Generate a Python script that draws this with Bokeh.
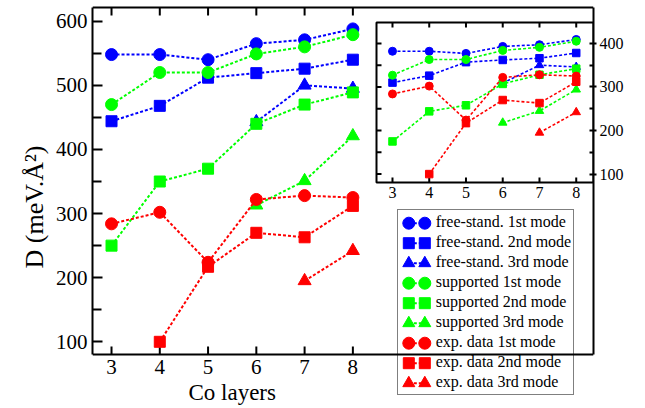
from bokeh.plotting import figure
from bokeh.models import Range1d, LinearAxis, FixedTicker, Legend, LegendItem
from bokeh.embed import file_html
from bokeh.resources import INLINE

# ---- data: spin-wave stiffness D versus number of Co layers ----
layers = [3, 4, 5, 6, 7, 8]
layers_3rd = [6, 7, 8]
layers_exp2 = [4, 5, 6, 7, 8]
layers_exp3 = [7, 8]

free_1st = [548, 548, 540, 565, 571, 588]
free_2nd = [444, 468, 512, 519, 526, 540]
free_3rd = [443, 500, 495]
supp_1st = [470, 520, 520, 549, 560, 579]
supp_2nd = [250, 350, 370, 440, 470, 489]
supp_3rd = [313, 351, 421]
exp_1st = [284, 302, 224, 322, 328, 325]
exp_2nd = [100, 217, 270, 263, 312]
exp_3rd = [195, 242]

# rescaled theory shown in the inset
inset_free_1st = [382, 382, 377, 393, 397, 409]
inset_free_2nd = [310, 326, 357, 362, 366, 378]
inset_free_3rd = [309, 350, 346]
inset_supp_1st = [327, 363, 363, 384, 391, 405]
inset_supp_2nd = [175, 244, 258, 307, 328, 342]
inset_supp_3rd = [218, 245, 294]

main_y_ticks = [100, 200, 300, 400, 500, 600]
main_y_minor = [150, 250, 350, 450, 550]
inset_y_ticks = [100, 200, 300, 400]
inset_y_minor = [150, 250, 350]

labels = [
    "free-stand. 1st mode", "free-stand. 2nd mode", "free-stand. 3rd mode",
    "supported 1st mode", "supported 2nd mode", "supported 3rd mode",
    "exp. data 1st mode", "exp. data 2nd mode", "exp. data 3rd mode",
]

BLUE, GREEN, RED = "#0000ff", "#00ff00", "#ff0000"
series = [
    (labels[0], BLUE, "circle", layers, free_1st, inset_free_1st),
    (labels[1], BLUE, "square", layers, free_2nd, inset_free_2nd),
    (labels[2], BLUE, "triangle", layers_3rd, free_3rd, inset_free_3rd),
    (labels[3], GREEN, "circle", layers, supp_1st, inset_supp_1st),
    (labels[4], GREEN, "square", layers, supp_2nd, inset_supp_2nd),
    (labels[5], GREEN, "triangle", layers_3rd, supp_3rd, inset_supp_3rd),
    (labels[6], RED, "circle", layers, exp_1st, exp_1st),
    (labels[7], RED, "square", layers_exp2, exp_2nd, exp_2nd),
    (labels[8], RED, "triangle", layers_exp3, exp_3rd, exp_3rd),
]
MAIN_SIZE = {"circle": 12, "square": 11, "triangle": 13}
INSET_SIZE = {"circle": 8, "square": 7.5, "triangle": 8.5}
KEY_SIZE = {"circle": 12, "square": 11, "triangle": 12}

# ---- page geometry (pixels) ----
W, H = 645, 408
FL, FR, FT = 92, 593, 5     # plotting area left / right / top
BOX_T, BOX_B = 7, 354       # top and bottom edges of the drawn axes box
IL, IR, IT, IB = 376, 593, 22, 182        # inset box edges
SERIF = "Liberation Serif"

X0, X1 = 2.606, 12.985
Y0, Y1 = 80.2, 621.4
sx_main = (FR - FL) / (X1 - X0)
sy_main = (BOX_B - BOX_T) / (Y1 - Y0)

# the plotting area runs down to the page bottom so the legend can hang below the box
y_range = Range1d(Y0 - (H - BOX_B) / sy_main, Y1 + (BOX_T - FT) / sy_main)

# inset data box and the extra ranges that put it in the upper right corner
ix0, ix1, iy0, iy1 = 2.565, 8.47, 80.7, 448.0
isx = (IR - IL) / (ix1 - ix0)
isy = (IB - IT) / (iy1 - iy0)
inset_x = Range1d(ix0 - (IL - FL) / isx, ix1 + (FR - IR) / isx)
inset_y = Range1d(iy0 - (H - IB) / isy, iy1 + (IT - FT) / isy)

p = figure(width=W, height=H, x_range=Range1d(X0, X1), y_range=y_range,
           x_axis_location=None,
           output_backend="svg", toolbar_location=None,
           min_border_left=FL, min_border_right=W - FR,
           min_border_top=FT, min_border_bottom=0)
# "px" ranges address the plotting area in page pixels (y counted downwards)
p.extra_x_ranges = {"ix": inset_x, "px": Range1d(FL, FR)}
p.extra_y_ranges = {"iy": inset_y, "px": Range1d(H, FT)}
p.grid.visible = False
p.outline_line_color = None
p.background_fill_color = "white"
p.border_fill_color = "white"

# left axis, inward ticks, limited to the box
ya = p.yaxis[0]
ya.bounds = (Y0, Y1)
ya.ticker = FixedTicker(ticks=main_y_ticks, minor_ticks=main_y_minor)
ya.axis_label = "D (meV.Å²)"
ya.axis_line_width = 2
ya.major_tick_in = 10
ya.major_tick_out = 0
ya.minor_tick_in = 9
ya.minor_tick_out = 0
ya.major_tick_line_width = 2
ya.minor_tick_line_width = 2
ya.major_label_text_font = SERIF
ya.major_label_text_font_size = "21px"
ya.major_label_text_color = "black"
ya.major_label_standoff = 5
ya.axis_label_text_font = SERIF
ya.axis_label_text_font_size = "26px"
ya.axis_label_text_font_style = "normal"
ya.axis_label_text_color = "black"
ya.axis_label_standoff = 4

# top and bottom edges of the box with their inward ticks
n = len(layers)
p.segment(x0=[X0, X0], y0=[Y0, Y1], x1=[X1, X1], y1=[Y0, Y1], line_color="black", line_width=2)
p.segment(x0=layers, y0=[Y0] * n, x1=layers, y1=[Y0 + 8 / sy_main] * n,
          line_color="black", line_width=2)
p.segment(x0=layers, y0=[Y1] * n, x1=layers, y1=[Y1 - 8 / sy_main] * n,
          line_color="black", line_width=2)
p.text(x=layers, y=[Y0] * n, text=[str(v) for v in layers],
       text_font=SERIF, text_font_size="21px", text_color="black",
       text_align="center", text_baseline="top", y_offset=5)
p.text(x=[(layers[0] + layers[-1]) / 2], y=[Y0], text=["Co layers"],
       text_font=SERIF, text_font_size="23px", text_color="black",
       text_align="center", text_baseline="middle", y_offset=38)

# ---- main curves ----
for label, color, marker, xs, ys, _ in series:
    p.line(xs, ys, line_color=color, line_width=2, line_dash="3 2")
    p.scatter(xs, ys, marker=marker, size=MAIN_SIZE[marker],
              fill_color=color, line_color=color)

# ---- inset ----
p.quad(left=[ix0], right=[ix1], bottom=[iy0], top=[iy1],
       fill_color="white", line_color="black", line_width=2,
       x_range_name="ix", y_range_name="iy")
tx = 5 / isx
ty = 5 / isy
p.segment(x0=layers, y0=[iy1] * n, x1=layers, y1=[iy1 - ty] * n,
          line_color="black", line_width=2, x_range_name="ix", y_range_name="iy")
p.segment(x0=layers, y0=[iy0] * n, x1=layers, y1=[iy0 + ty] * n,
          line_color="black", line_width=2, x_range_name="ix", y_range_name="iy")
left_ticks = inset_y_ticks + inset_y_minor
p.segment(x0=[ix0] * len(left_ticks), y0=left_ticks,
          x1=[ix0 + tx] * len(left_ticks), y1=left_ticks,
          line_color="black", line_width=2, x_range_name="ix", y_range_name="iy")
p.text(x=layers, y=[iy0] * n, text=[str(v) for v in layers],
       text_font=SERIF, text_font_size="16px", text_color="black",
       text_align="center", text_baseline="top", y_offset=4,
       x_range_name="ix", y_range_name="iy")

for label, color, marker, xs, _, ys in series:
    p.line(xs, ys, line_color=color, line_width=1.6, line_dash="3 2",
           x_range_name="ix", y_range_name="iy")
    p.scatter(xs, ys, marker=marker, size=INSET_SIZE[marker],
              fill_color=color, line_color=color,
              x_range_name="ix", y_range_name="iy")

# right axis belongs to the inset; its line is the right edge of the box
right_axis = LinearAxis(y_range_name="iy",
                        bounds=(iy0 - (BOX_B - IB) / isy, iy1 + (IT - BOX_T) / isy),
                        ticker=FixedTicker(ticks=inset_y_ticks, minor_ticks=inset_y_minor),
                        major_tick_in=4, major_tick_out=3, minor_tick_in=4, minor_tick_out=0,
                        axis_line_width=2, major_tick_line_width=2, minor_tick_line_width=2,
                        major_label_standoff=3, major_label_text_font=SERIF,
                        major_label_text_font_size="16px", major_label_text_color="black")
p.add_layout(right_axis, "right")

# ---- legend: framed labels (transparent fill) over a two-marker key ----
LG_LEFT, LG_BOTTOM = 396.7, 394.7
ROW0, ROW_H = 222.7, 20
MK_LEFT, MK_RIGHT = 408.3, 424.3

for k, (label, color, marker, *_rest) in enumerate(series):
    yc = ROW0 + ROW_H * k
    p.segment(x0=[MK_LEFT], y0=[yc], x1=[MK_RIGHT], y1=[yc], line_color=color,
              line_width=2, line_dash="3 2",
              x_range_name="px", y_range_name="px")
    p.scatter(x=[MK_LEFT, MK_RIGHT], y=[yc, yc], marker=marker, size=KEY_SIZE[marker],
              fill_color=color, line_color=color,
              x_range_name="px", y_range_name="px")

dummy = p.scatter(x=[], y=[], alpha=0)
box = Legend(items=[LegendItem(label=t, renderers=[dummy]) for t in labels],
             location=(LG_LEFT - FL, H - LG_BOTTOM), padding=2, spacing=0,
             glyph_width=34, glyph_height=20, label_height=20, label_standoff=2,
             label_text_font=SERIF, label_text_font_size="16px", label_text_color="black",
             border_line_color="black", border_line_width=1.5,
             background_fill_alpha=0)
p.add_layout(box)

open("out.html", "w").write(file_html(p, INLINE))
